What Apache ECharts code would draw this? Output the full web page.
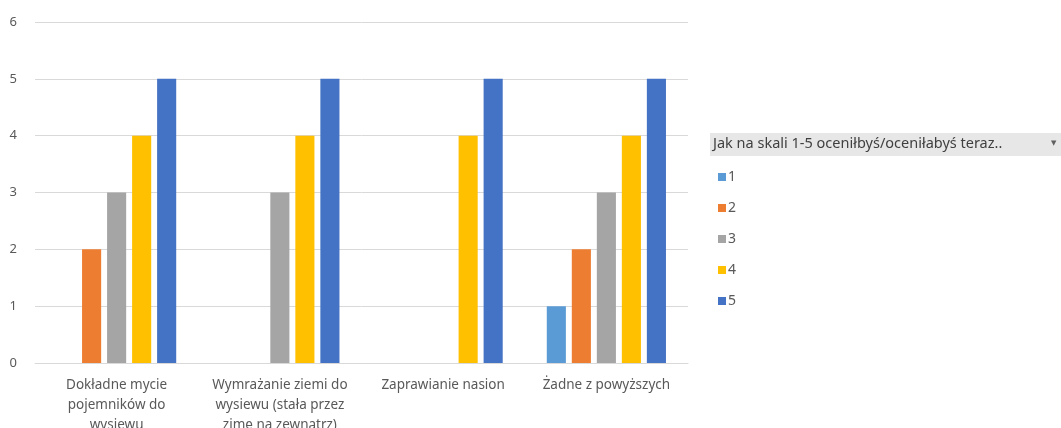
<!DOCTYPE html>
<html><head><meta charset="utf-8">
<script src="https://cdn.jsdelivr.net/npm/echarts@6/dist/echarts.min.js"></script>
<style>html,body{margin:0;padding:0;background:#fff}#c{width:1061px;height:428px}</style>
</head><body><div id="c"></div>
<script>
const categories = [
  "Dokładne mycie\npojemników do\nwysiewu",
  "Wymrażanie ziemi do\nwysiewu (stała przez\nzimę na zewnątrz)",
  "Zaprawianie nasion",
  "Żadne z powyższych"
];
const seriesNames = ["1", "2", "3", "4", "5"];
const s1 = [null, null, null, 1];
const s2 = [2, null, null, 2];
const s3 = [3, 3, null, 3];
const s4 = [4, 4, 4, 4];
const s5 = [5, 5, 5, 5];
const yTicks = [0, 1, 2, 3, 4, 5, 6];
const legendTitle = "Jak na skali 1-5 oceniłbyś/oceniłabyś teraz..";
const colors = ["#5B9BD5", "#ED7D31", "#A5A5A5", "#FFC000", "#4472C4"];

const allData = [s1, s2, s3, s4, s5];
const font = "'Noto Sans', sans-serif";
const chart = echarts.init(document.getElementById('c'));
chart.setOption({
  animation: false,
  color: colors,
  textStyle: { fontFamily: font },
  grid: { left: 35, right: 373, top: 22, bottom: 65, outerBoundsMode: 'none', containLabel: false },
  xAxis: {
    type: 'category', data: categories,
    axisLine: { lineStyle: { color: '#d9d9d9' } },
    axisTick: { show: false },
    axisLabel: { color: '#595959', fontSize: 13.5, lineHeight: 20, margin: 12, interval: 0 }
  },
  yAxis: {
    type: 'value', min: yTicks[0], max: yTicks[yTicks.length - 1], interval: 1,
    axisLine: { show: false }, axisTick: { show: false },
    splitLine: { lineStyle: { color: '#d9d9d9' } },
    axisLabel: { color: '#595959', fontSize: 13, margin: 18 }
  },
  legend: {
    orient: 'vertical', left: 713, top: 165,
    itemWidth: 8, itemHeight: 8, itemGap: 17, icon: 'rect',
    textStyle: { color: '#595959', fontSize: 14, padding: [0, 0, 0, -3] },
    data: seriesNames
  },
  graphic: [
    { type: 'rect', left: 710, top: 133, shape: { width: 351, height: 23 }, style: { fill: '#e7e7e7' } },
    { type: 'text', left: 713, top: 136, style: { text: legendTitle, fill: '#404040', font: "14.5px 'Noto Sans', sans-serif" } },
    { type: 'text', left: 1051, top: 140, style: { text: '▼', fill: '#606060', font: "7px 'DejaVu Sans', sans-serif" } }
  ],
  series: seriesNames.map((n, i) => ({
    name: n, type: 'bar', data: allData[i],
    barGap: '31%', barCategoryGap: '27%'
  }))
});
</script></body></html>
